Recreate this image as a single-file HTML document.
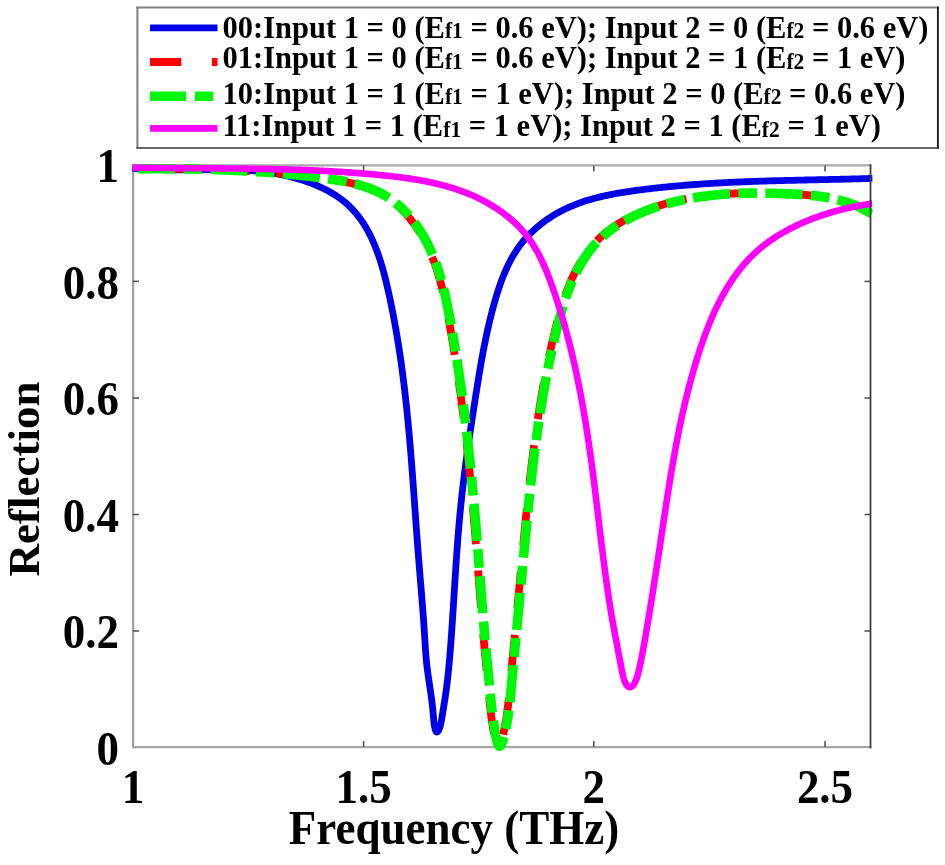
<!DOCTYPE html>
<html><head><meta charset="utf-8">
<style>
html,body{margin:0;padding:0;background:#fff;}
body{width:945px;height:865px;overflow:hidden;position:relative;}
svg{position:absolute;left:0;top:0;will-change:transform;}
text{font-family:"Liberation Serif",serif;font-weight:bold;fill:#000;}
.tk{font-size:45px;}
.lg{font-size:30.5px;}
</style></head>
<body>
<svg width="945" height="865" viewBox="0 0 945 865">
<defs>
<clipPath id="pc"><rect x="120" y="150" width="752.5" height="610"/></clipPath>
</defs>
<!-- axes box -->
<line x1="133.1" y1="164" x2="133.1" y2="748.3" stroke="#a0a0a0" stroke-width="2.2"/>
<line x1="132" y1="747.1" x2="871.4" y2="747.1" stroke="#a6a6a6" stroke-width="2.2"/>
<line x1="132" y1="165.4" x2="871.4" y2="165.4" stroke="#a8a8a8" stroke-width="2.4"/>
<!-- ticks -->
<g stroke="#555" stroke-width="1.6">
<line x1="133" y1="631" x2="139" y2="631"/>
<line x1="133" y1="514.5" x2="139" y2="514.5"/>
<line x1="133" y1="398" x2="139" y2="398"/>
<line x1="133" y1="281.4" x2="139" y2="281.4"/>
<line x1="870.5" y1="631" x2="864.5" y2="631"/>
<line x1="870.5" y1="514.5" x2="864.5" y2="514.5"/>
<line x1="870.5" y1="398" x2="864.5" y2="398"/>
<line x1="870.5" y1="281.4" x2="864.5" y2="281.4"/>
<line x1="363.6" y1="747" x2="363.6" y2="741"/>
<line x1="593.8" y1="747" x2="593.8" y2="741"/>
<line x1="825" y1="747" x2="825" y2="741"/>
<line x1="363.6" y1="165.4" x2="363.6" y2="171.4"/>
<line x1="593.8" y1="165.4" x2="593.8" y2="171.4"/>
<line x1="825" y1="165.4" x2="825" y2="171.4"/>
</g>
<!-- curves -->
<g clip-path="url(#pc)" fill="none" stroke-linejoin="round">
<path d="M132.56,168.17 L132.86,168.20 L134.52,168.35 L136.18,168.49 L137.83,168.62 L139.49,168.75 L141.14,168.86 L142.80,168.97 L144.45,169.07 L146.10,169.16 L147.75,169.25 L149.40,169.32 L151.05,169.39 L152.69,169.46 L154.34,169.52 L155.98,169.57 L157.63,169.62 L159.27,169.66 L160.91,169.69 L162.55,169.72 L164.19,169.75 L165.83,169.77 L167.47,169.79 L169.11,169.80 L170.74,169.81 L172.38,169.81 L174.01,169.82 L175.65,169.81 L177.28,169.81 L178.91,169.80 L180.54,169.79 L182.18,169.78 L183.81,169.77 L185.43,169.75 L187.06,169.74 L188.69,169.72 L190.32,169.70 L191.94,169.68 L193.57,169.66 L195.19,169.64 L196.82,169.62 L198.44,169.60 L200.06,169.58 L201.68,169.56 L203.30,169.55 L204.92,169.53 L206.54,169.51 L208.16,169.50 L209.78,169.49 L211.40,169.48 L213.02,169.47 L214.63,169.47 L216.25,169.47 L217.87,169.47 L219.48,169.47 L221.10,169.48 L222.71,169.49 L224.32,169.51 L225.94,169.53 L227.55,169.56 L229.16,169.59 L230.77,169.62 L232.38,169.66 L233.99,169.71 L235.60,169.76 L237.21,169.82 L238.82,169.88 L240.43,169.95 L242.04,170.03 L243.65,170.12 L245.26,170.21 L246.86,170.31 L248.47,170.41 L250.08,170.53 L251.68,170.65 L253.29,170.78 L254.89,170.92 L256.50,171.07 L258.11,171.23 L259.71,171.40 L261.32,171.58 L262.92,171.76 L264.52,171.96 L266.13,172.17 L267.73,172.39 L269.34,172.62 L270.94,172.86 L272.54,173.11 L274.14,173.37 L275.75,173.64 L277.35,173.93 L278.95,174.23 L280.55,174.54 L282.16,174.87 L283.76,175.20 L285.36,175.56 L286.96,175.92 L288.57,176.30 L290.17,176.69 L291.77,177.10 L293.37,177.52 L294.97,177.95 L296.57,178.40 L298.18,178.87 L299.78,179.35 L301.38,179.84 L302.98,180.36 L304.58,180.89 L306.18,181.43 L307.77,181.99 L309.36,182.57 L310.95,183.16 L312.53,183.77 L314.10,184.40 L315.66,185.04 L317.22,185.70 L318.77,186.38 L320.31,187.07 L321.84,187.78 L323.36,188.51 L324.86,189.26 L326.35,190.02 L327.83,190.81 L329.30,191.61 L330.74,192.42 L332.18,193.26 L333.59,194.11 L334.99,194.99 L336.37,195.88 L337.73,196.79 L339.07,197.72 L340.38,198.67 L341.68,199.63 L342.95,200.62 L344.20,201.63 L345.43,202.65 L346.63,203.69 L347.81,204.76 L348.97,205.84 L350.10,206.93 L351.22,208.05 L352.31,209.18 L353.38,210.33 L354.43,211.50 L355.46,212.68 L356.46,213.88 L357.45,215.10 L358.42,216.33 L359.37,217.57 L360.30,218.83 L361.21,220.11 L362.10,221.40 L362.97,222.70 L363.82,224.02 L364.66,225.35 L365.48,226.69 L366.28,228.05 L367.07,229.42 L367.84,230.80 L368.59,232.20 L369.33,233.60 L370.05,235.02 L370.76,236.44 L371.45,237.88 L372.13,239.33 L372.79,240.79 L373.44,242.26 L374.07,243.74 L374.70,245.22 L375.30,246.72 L375.90,248.22 L376.48,249.74 L377.05,251.26 L377.61,252.79 L378.16,254.32 L378.70,255.87 L379.22,257.42 L379.74,258.97 L380.24,260.54 L380.73,262.10 L381.22,263.68 L381.69,265.26 L382.16,266.84 L382.62,268.43 L383.06,270.03 L383.50,271.62 L383.94,273.23 L384.36,274.83 L384.78,276.44 L385.19,278.05 L385.59,279.67 L385.99,281.28 L386.38,282.90 L386.77,284.52 L387.15,286.14 L387.52,287.76 L387.89,289.39 L388.26,291.01 L388.62,292.64 L388.98,294.26 L389.33,295.88 L389.68,297.51 L390.03,299.13 L390.37,300.75 L390.71,302.38 L391.05,304.00 L391.38,305.62 L391.71,307.24 L392.04,308.86 L392.36,310.48 L392.68,312.10 L392.99,313.72 L393.31,315.34 L393.62,316.96 L393.92,318.58 L394.22,320.20 L394.52,321.82 L394.82,323.44 L395.11,325.06 L395.40,326.67 L395.69,328.29 L395.98,329.91 L396.26,331.53 L396.53,333.14 L396.81,334.76 L397.08,336.38 L397.35,337.99 L397.62,339.61 L397.88,341.22 L398.14,342.84 L398.40,344.46 L398.65,346.07 L398.91,347.69 L399.16,349.30 L399.40,350.91 L399.65,352.53 L399.89,354.14 L400.13,355.76 L400.36,357.37 L400.60,358.98 L400.83,360.60 L401.06,362.21 L401.28,363.82 L401.51,365.44 L401.73,367.05 L401.95,368.66 L402.16,370.28 L402.38,371.89 L402.59,373.50 L402.80,375.11 L403.01,376.73 L403.21,378.34 L403.42,379.95 L403.62,381.56 L403.82,383.17 L404.01,384.79 L404.21,386.40 L404.40,388.01 L404.59,389.62 L404.78,391.23 L404.96,392.84 L405.15,394.46 L405.33,396.07 L405.51,397.68 L405.69,399.29 L405.87,400.90 L406.04,402.51 L406.22,404.12 L406.39,405.73 L406.56,407.35 L406.73,408.96 L406.89,410.57 L407.06,412.18 L407.22,413.79 L407.38,415.40 L407.54,417.01 L407.70,418.62 L407.86,420.24 L408.01,421.85 L408.17,423.46 L408.32,425.07 L408.47,426.68 L408.62,428.29 L408.77,429.90 L408.92,431.52 L409.06,433.13 L409.21,434.74 L409.35,436.35 L409.49,437.96 L409.63,439.57 L409.77,441.19 L409.91,442.80 L410.05,444.41 L410.18,446.02 L410.32,447.64 L410.45,449.25 L410.59,450.86 L410.72,452.47 L410.85,454.09 L410.98,455.70 L411.11,457.31 L411.24,458.93 L411.37,460.54 L411.50,462.15 L411.62,463.77 L411.75,465.38 L411.87,467.00 L412.00,468.61 L412.12,470.23 L412.24,471.84 L412.37,473.46 L412.49,475.07 L412.61,476.69 L412.73,478.30 L412.85,479.92 L412.97,481.53 L413.09,483.15 L413.21,484.77 L413.33,486.38 L413.45,488.00 L413.56,489.62 L413.68,491.24 L413.80,492.85 L413.92,494.47 L414.03,496.09 L414.15,497.71 L414.26,499.33 L414.38,500.95 L414.50,502.57 L414.61,504.19 L414.73,505.81 L414.85,507.43 L414.96,509.05 L415.08,510.67 L415.19,512.29 L415.31,513.91 L415.43,515.53 L415.54,517.15 L415.66,518.78 L415.78,520.40 L415.89,522.02 L416.01,523.65 L416.13,525.27 L416.24,526.89 L416.36,528.52 L416.48,530.14 L416.60,531.77 L416.72,533.40 L416.84,535.02 L416.96,536.65 L417.08,538.28 L417.20,539.90 L417.32,541.53 L417.45,543.16 L417.57,544.79 L417.69,546.42 L417.82,548.05 L417.94,549.68 L418.07,551.31 L418.19,552.94 L418.32,554.57 L418.45,556.20 L418.58,557.83 L418.71,559.46 L418.84,561.10 L418.97,562.73 L419.10,564.36 L419.23,566.00 L419.37,567.63 L419.50,569.27 L419.63,570.90 L419.77,572.54 L419.90,574.18 L420.04,575.81 L420.17,577.45 L420.31,579.09 L420.45,580.72 L420.58,582.36 L420.72,584.00 L420.85,585.64 L420.99,587.27 L421.12,588.91 L421.26,590.55 L421.39,592.19 L421.53,593.83 L421.66,595.47 L421.79,597.10 L421.93,598.74 L422.06,600.38 L422.19,602.02 L422.32,603.66 L422.45,605.30 L422.58,606.94 L422.70,608.58 L422.83,610.21 L422.95,611.85 L423.08,613.49 L423.20,615.13 L423.32,616.77 L423.44,618.40 L423.56,620.04 L423.67,621.68 L423.79,623.32 L423.90,624.95 L424.01,626.59 L424.12,628.23 L424.23,629.86 L424.33,631.50 L424.44,633.13 L424.54,634.77 L424.64,636.40 L424.74,638.03 L424.84,639.67 L424.94,641.30 L425.04,642.93 L425.14,644.55 L425.24,646.18 L425.35,647.80 L425.46,649.42 L425.58,651.03 L425.69,652.65 L425.82,654.26 L425.95,655.86 L426.08,657.47 L426.22,659.06 L426.37,660.66 L426.53,662.25 L426.69,663.83 L426.86,665.41 L427.05,666.98 L427.24,668.55 L427.44,670.12 L427.64,671.69 L427.85,673.25 L428.07,674.81 L428.29,676.38 L428.52,677.94 L428.75,679.51 L428.98,681.08 L429.22,682.65 L429.46,684.24 L429.70,685.82 L429.94,687.42 L430.17,689.02 L430.41,690.63 L430.65,692.26 L430.88,693.89 L431.11,695.54 L431.34,697.19 L431.56,698.87 L431.78,700.56 L431.99,702.26 L432.19,703.98 L432.39,705.72 L432.58,707.48 L432.76,709.26 L432.93,711.05 L433.10,712.88 L433.25,714.72 L433.40,716.57 L433.55,718.42 L433.72,720.25 L433.91,722.05 L434.13,723.81 L434.38,725.51 L434.69,727.14 L435.04,728.68 L435.46,730.08 L435.93,731.19 L436.45,731.91 L437.03,732.10 L437.65,731.75 L438.27,730.96 L438.88,729.83 L439.45,728.44 L439.97,726.83 L440.45,725.06 L440.90,723.15 L441.31,721.13 L441.69,719.06 L442.05,716.96 L442.39,714.88 L442.71,712.84 L443.02,710.88 L443.32,709.02 L443.61,707.23 L443.88,705.51 L444.15,703.85 L444.41,702.23 L444.66,700.66 L444.90,699.12 L445.14,697.60 L445.37,696.09 L445.59,694.58 L445.81,693.07 L446.02,691.54 L446.23,690.01 L446.44,688.47 L446.64,686.92 L446.84,685.36 L447.03,683.80 L447.22,682.23 L447.40,680.65 L447.58,679.07 L447.76,677.48 L447.93,675.88 L448.10,674.28 L448.27,672.67 L448.43,671.06 L448.59,669.45 L448.75,667.83 L448.90,666.21 L449.06,664.58 L449.21,662.96 L449.35,661.32 L449.50,659.69 L449.64,658.06 L449.78,656.42 L449.91,654.78 L450.05,653.15 L450.18,651.51 L450.31,649.87 L450.44,648.23 L450.57,646.59 L450.70,644.95 L450.82,643.32 L450.95,641.68 L451.07,640.04 L451.19,638.41 L451.31,636.77 L451.43,635.14 L451.55,633.50 L451.66,631.87 L451.78,630.23 L451.89,628.60 L452.00,626.97 L452.11,625.33 L452.23,623.70 L452.34,622.07 L452.44,620.44 L452.55,618.80 L452.66,617.17 L452.77,615.54 L452.87,613.91 L452.98,612.28 L453.08,610.65 L453.19,609.02 L453.29,607.39 L453.39,605.77 L453.50,604.14 L453.60,602.51 L453.70,600.88 L453.80,599.25 L453.91,597.63 L454.01,596.00 L454.11,594.37 L454.21,592.75 L454.31,591.12 L454.41,589.49 L454.52,587.87 L454.62,586.24 L454.72,584.62 L454.82,582.99 L454.92,581.37 L455.03,579.74 L455.13,578.12 L455.23,576.49 L455.34,574.87 L455.44,573.25 L455.54,571.62 L455.65,570.00 L455.76,568.38 L455.86,566.75 L455.97,565.13 L456.08,563.51 L456.19,561.89 L456.30,560.26 L456.41,558.64 L456.52,557.02 L456.63,555.40 L456.74,553.78 L456.86,552.16 L456.97,550.53 L457.09,548.91 L457.21,547.29 L457.33,545.67 L457.45,544.05 L457.57,542.43 L457.69,540.81 L457.82,539.19 L457.94,537.57 L458.07,535.95 L458.20,534.32 L458.33,532.70 L458.47,531.08 L458.60,529.46 L458.74,527.84 L458.87,526.22 L459.01,524.60 L459.16,522.98 L459.30,521.36 L459.45,519.74 L459.59,518.12 L459.74,516.50 L459.90,514.88 L460.05,513.26 L460.21,511.64 L460.36,510.02 L460.53,508.40 L460.69,506.78 L460.85,505.16 L461.02,503.54 L461.19,501.92 L461.36,500.30 L461.54,498.68 L461.71,497.06 L461.89,495.44 L462.07,493.82 L462.25,492.20 L462.43,490.58 L462.62,488.96 L462.81,487.34 L463.00,485.72 L463.19,484.10 L463.38,482.48 L463.57,480.86 L463.77,479.24 L463.97,477.63 L464.17,476.01 L464.37,474.39 L464.57,472.77 L464.78,471.15 L464.99,469.53 L465.19,467.91 L465.40,466.29 L465.61,464.68 L465.83,463.06 L466.04,461.44 L466.26,459.82 L466.47,458.20 L466.69,456.59 L466.91,454.97 L467.13,453.35 L467.36,451.73 L467.58,450.12 L467.80,448.50 L468.03,446.88 L468.26,445.27 L468.49,443.65 L468.72,442.04 L468.95,440.42 L469.18,438.81 L469.41,437.19 L469.65,435.57 L469.88,433.96 L470.12,432.35 L470.36,430.73 L470.60,429.12 L470.84,427.50 L471.08,425.89 L471.32,424.28 L471.56,422.66 L471.80,421.05 L472.05,419.44 L472.29,417.83 L472.54,416.21 L472.78,414.60 L473.03,412.99 L473.28,411.38 L473.53,409.77 L473.78,408.16 L474.03,406.55 L474.28,404.94 L474.53,403.33 L474.78,401.72 L475.03,400.11 L475.28,398.50 L475.53,396.90 L475.79,395.29 L476.04,393.68 L476.30,392.07 L476.55,390.47 L476.81,388.86 L477.06,387.25 L477.32,385.65 L477.58,384.04 L477.84,382.44 L478.10,380.84 L478.36,379.23 L478.62,377.63 L478.88,376.02 L479.15,374.42 L479.42,372.82 L479.69,371.22 L479.96,369.62 L480.23,368.02 L480.51,366.42 L480.78,364.82 L481.06,363.22 L481.35,361.62 L481.63,360.02 L481.92,358.42 L482.21,356.82 L482.50,355.23 L482.80,353.63 L483.10,352.03 L483.40,350.44 L483.70,348.84 L484.01,347.25 L484.32,345.65 L484.64,344.06 L484.96,342.47 L485.28,340.87 L485.61,339.28 L485.94,337.69 L486.27,336.10 L486.61,334.51 L486.95,332.92 L487.30,331.33 L487.65,329.74 L488.01,328.15 L488.37,326.56 L488.74,324.98 L489.11,323.39 L489.48,321.80 L489.86,320.22 L490.25,318.63 L490.64,317.05 L491.04,315.47 L491.44,313.88 L491.85,312.30 L492.26,310.72 L492.68,309.14 L493.10,307.56 L493.53,305.98 L493.97,304.40 L494.41,302.82 L494.86,301.24 L495.32,299.67 L495.78,298.09 L496.25,296.52 L496.73,294.94 L497.21,293.37 L497.71,291.80 L498.21,290.24 L498.72,288.68 L499.24,287.12 L499.77,285.56 L500.31,284.01 L500.87,282.46 L501.43,280.92 L502.00,279.39 L502.59,277.86 L503.19,276.33 L503.80,274.81 L504.42,273.30 L505.06,271.80 L505.71,270.30 L506.37,268.82 L507.05,267.33 L507.75,265.86 L508.46,264.40 L509.18,262.95 L509.92,261.50 L510.68,260.07 L511.45,258.65 L512.24,257.23 L513.05,255.83 L513.88,254.44 L514.73,253.06 L515.59,251.70 L516.47,250.34 L517.38,249.00 L518.30,247.68 L519.24,246.36 L520.21,245.06 L521.19,243.78 L522.19,242.51 L523.22,241.25 L524.26,240.01 L525.33,238.78 L526.41,237.57 L527.51,236.37 L528.63,235.19 L529.77,234.03 L530.92,232.87 L532.09,231.74 L533.28,230.62 L534.48,229.52 L535.70,228.43 L536.93,227.36 L538.18,226.30 L539.44,225.26 L540.72,224.24 L542.01,223.23 L543.31,222.24 L544.62,221.27 L545.95,220.32 L547.29,219.38 L548.64,218.46 L550.00,217.55 L551.37,216.67 L552.76,215.80 L554.15,214.95 L555.55,214.11 L556.96,213.30 L558.38,212.50 L559.81,211.72 L561.24,210.96 L562.68,210.22 L564.13,209.50 L565.59,208.79 L567.06,208.10 L568.53,207.43 L570.00,206.78 L571.49,206.14 L572.98,205.52 L574.48,204.91 L575.98,204.32 L577.49,203.74 L579.00,203.18 L580.53,202.64 L582.05,202.11 L583.58,201.59 L585.12,201.08 L586.66,200.59 L588.21,200.12 L589.76,199.65 L591.32,199.20 L592.88,198.76 L594.45,198.33 L596.02,197.92 L597.59,197.51 L599.17,197.12 L600.75,196.74 L602.33,196.37 L603.92,196.00 L605.51,195.65 L607.11,195.31 L608.71,194.98 L610.31,194.65 L611.91,194.34 L613.52,194.03 L615.12,193.73 L616.73,193.44 L618.35,193.16 L619.96,192.88 L621.58,192.61 L623.20,192.35 L624.81,192.09 L626.44,191.84 L628.06,191.60 L629.68,191.36 L631.30,191.12 L632.93,190.89 L634.55,190.67 L636.18,190.45 L637.80,190.23 L639.43,190.02 L641.06,189.81 L642.68,189.60 L644.31,189.40 L645.93,189.20 L647.56,189.00 L649.19,188.81 L650.81,188.61 L652.44,188.43 L654.06,188.24 L655.69,188.06 L657.31,187.88 L658.94,187.70 L660.56,187.53 L662.19,187.36 L663.81,187.19 L665.44,187.03 L667.06,186.86 L668.69,186.71 L670.31,186.55 L671.94,186.39 L673.56,186.24 L675.19,186.09 L676.81,185.95 L678.44,185.80 L680.06,185.66 L681.68,185.52 L683.31,185.39 L684.93,185.25 L686.56,185.12 L688.18,184.99 L689.81,184.87 L691.43,184.74 L693.06,184.62 L694.68,184.50 L696.31,184.38 L697.93,184.27 L699.55,184.15 L701.18,184.04 L702.80,183.93 L704.43,183.83 L706.05,183.72 L707.68,183.62 L709.30,183.52 L710.93,183.42 L712.55,183.32 L714.18,183.23 L715.80,183.13 L717.42,183.04 L719.05,182.95 L720.67,182.86 L722.30,182.78 L723.92,182.69 L725.55,182.61 L727.17,182.53 L728.80,182.45 L730.42,182.37 L732.05,182.30 L733.67,182.22 L735.30,182.15 L736.92,182.08 L738.55,182.01 L740.17,181.94 L741.80,181.87 L743.42,181.80 L745.05,181.74 L746.67,181.68 L748.30,181.61 L749.93,181.55 L751.55,181.49 L753.18,181.43 L754.80,181.38 L756.43,181.32 L758.05,181.27 L759.68,181.21 L761.31,181.16 L762.93,181.11 L764.56,181.06 L766.18,181.01 L767.81,180.96 L769.44,180.91 L771.06,180.86 L772.69,180.82 L774.32,180.77 L775.95,180.73 L777.57,180.68 L779.20,180.64 L780.83,180.60 L782.45,180.55 L784.08,180.51 L785.71,180.47 L787.34,180.43 L788.96,180.39 L790.59,180.35 L792.22,180.31 L793.85,180.28 L795.48,180.24 L797.11,180.20 L798.73,180.16 L800.36,180.13 L801.99,180.09 L803.62,180.06 L805.25,180.02 L806.88,179.98 L808.51,179.95 L810.14,179.91 L811.77,179.88 L813.40,179.84 L815.03,179.81 L816.66,179.77 L818.29,179.74 L819.92,179.70 L821.55,179.67 L823.18,179.64 L824.81,179.60 L826.44,179.57 L828.08,179.53 L829.71,179.49 L831.34,179.46 L832.97,179.42 L834.60,179.39 L836.24,179.35 L837.87,179.31 L839.50,179.28 L841.13,179.24 L842.77,179.20 L844.40,179.16 L846.03,179.12 L847.67,179.08 L849.30,179.04 L850.93,179.00 L852.57,178.96 L854.20,178.92 L855.84,178.88 L857.47,178.83 L859.11,178.79 L860.74,178.74 L862.38,178.70 L864.02,178.65 L865.65,178.61 L867.29,178.56 L868.92,178.51 L870.56,178.46 L872.76,178.39" stroke="#0000e6" stroke-width="6.8"/>
<path transform="translate(-1.4,0)" d="M132.49,168.82 L132.79,168.82 L134.47,168.81 L136.16,168.79 L137.84,168.78 L139.52,168.77 L141.20,168.76 L142.87,168.75 L144.55,168.74 L146.22,168.73 L147.89,168.72 L149.56,168.72 L151.22,168.71 L152.89,168.71 L154.55,168.71 L156.21,168.70 L157.87,168.70 L159.53,168.71 L161.18,168.71 L162.83,168.71 L164.49,168.72 L166.14,168.72 L167.79,168.73 L169.44,168.74 L171.08,168.75 L172.73,168.76 L174.37,168.77 L176.01,168.78 L177.65,168.80 L179.29,168.82 L180.93,168.83 L182.57,168.85 L184.21,168.88 L185.84,168.90 L187.48,168.92 L189.11,168.95 L190.74,168.97 L192.37,169.00 L194.00,169.03 L195.63,169.06 L197.26,169.10 L198.89,169.13 L200.51,169.17 L202.14,169.21 L203.76,169.25 L205.39,169.29 L207.01,169.33 L208.64,169.38 L210.26,169.43 L211.88,169.47 L213.50,169.52 L215.12,169.58 L216.74,169.63 L218.36,169.69 L219.98,169.74 L221.60,169.80 L223.22,169.87 L224.84,169.93 L226.46,170.00 L228.08,170.06 L229.70,170.13 L231.31,170.20 L232.93,170.28 L234.55,170.35 L236.17,170.43 L237.79,170.51 L239.40,170.59 L241.02,170.68 L242.64,170.76 L244.26,170.85 L245.88,170.94 L247.50,171.03 L249.11,171.13 L250.73,171.22 L252.35,171.32 L253.97,171.43 L255.59,171.53 L257.21,171.64 L258.84,171.74 L260.46,171.85 L262.08,171.97 L263.70,172.08 L265.33,172.20 L266.95,172.32 L268.57,172.44 L270.20,172.57 L271.83,172.70 L273.45,172.83 L275.08,172.96 L276.71,173.09 L278.34,173.23 L279.97,173.37 L281.60,173.51 L283.23,173.66 L284.86,173.81 L286.50,173.96 L288.13,174.11 L289.77,174.27 L291.41,174.43 L293.05,174.59 L294.69,174.75 L296.33,174.92 L297.97,175.09 L299.62,175.26 L301.26,175.44 L302.91,175.61 L304.56,175.79 L306.20,175.98 L307.86,176.16 L309.51,176.35 L311.16,176.55 L312.82,176.74 L314.48,176.94 L316.14,177.14 L317.80,177.34 L319.46,177.55 L321.12,177.76 L322.79,177.98 L324.45,178.20 L326.12,178.42 L327.78,178.66 L329.44,178.89 L331.11,179.14 L332.77,179.39 L334.43,179.65 L336.08,179.92 L337.73,180.20 L339.38,180.48 L341.03,180.78 L342.67,181.08 L344.31,181.40 L345.95,181.73 L347.58,182.07 L349.20,182.42 L350.82,182.79 L352.43,183.17 L354.03,183.56 L355.63,183.97 L357.22,184.39 L358.80,184.83 L360.38,185.28 L361.94,185.75 L363.50,186.24 L365.05,186.74 L366.58,187.26 L368.11,187.80 L369.63,188.36 L371.13,188.94 L372.63,189.54 L374.11,190.16 L375.58,190.80 L377.04,191.46 L378.49,192.14 L379.92,192.85 L381.34,193.58 L382.75,194.33 L384.14,195.10 L385.51,195.90 L386.87,196.73 L388.22,197.58 L389.55,198.45 L390.86,199.36 L392.16,200.28 L393.44,201.23 L394.71,202.20 L395.96,203.20 L397.20,204.22 L398.41,205.26 L399.62,206.32 L400.81,207.41 L401.98,208.51 L403.14,209.64 L404.28,210.78 L405.40,211.94 L406.51,213.12 L407.61,214.32 L408.69,215.54 L409.75,216.78 L410.80,218.03 L411.83,219.29 L412.84,220.58 L413.84,221.87 L414.83,223.19 L415.80,224.51 L416.75,225.85 L417.69,227.21 L418.61,228.57 L419.52,229.95 L420.41,231.34 L421.29,232.74 L422.15,234.16 L423.00,235.58 L423.83,237.01 L424.64,238.45 L425.44,239.90 L426.22,241.36 L426.99,242.83 L427.74,244.30 L428.48,245.78 L429.20,247.26 L429.91,248.76 L430.60,250.25 L431.28,251.75 L431.94,253.26 L432.58,254.77 L433.21,256.28 L433.83,257.80 L434.43,259.33 L435.02,260.85 L435.60,262.39 L436.16,263.92 L436.71,265.46 L437.25,267.00 L437.78,268.55 L438.29,270.10 L438.79,271.65 L439.28,273.21 L439.76,274.76 L440.23,276.33 L440.69,277.89 L441.14,279.46 L441.58,281.03 L442.01,282.61 L442.43,284.18 L442.84,285.76 L443.25,287.34 L443.64,288.93 L444.03,290.51 L444.41,292.10 L444.79,293.69 L445.15,295.28 L445.51,296.87 L445.86,298.47 L446.21,300.07 L446.55,301.67 L446.89,303.27 L447.22,304.87 L447.55,306.47 L447.87,308.08 L448.19,309.68 L448.50,311.29 L448.81,312.89 L449.12,314.50 L449.42,316.11 L449.72,317.72 L450.02,319.33 L450.32,320.94 L450.61,322.55 L450.91,324.16 L451.20,325.77 L451.49,327.39 L451.77,329.00 L452.06,330.61 L452.34,332.22 L452.63,333.84 L452.91,335.45 L453.18,337.06 L453.46,338.68 L453.74,340.29 L454.01,341.91 L454.28,343.52 L454.55,345.14 L454.82,346.76 L455.08,348.37 L455.35,349.99 L455.61,351.61 L455.87,353.22 L456.13,354.84 L456.39,356.46 L456.64,358.08 L456.90,359.70 L457.15,361.32 L457.40,362.94 L457.65,364.56 L457.89,366.18 L458.14,367.80 L458.38,369.42 L458.63,371.04 L458.87,372.66 L459.11,374.28 L459.34,375.90 L459.58,377.52 L459.82,379.15 L460.05,380.77 L460.28,382.39 L460.51,384.01 L460.74,385.64 L460.97,387.26 L461.19,388.89 L461.42,390.51 L461.64,392.13 L461.86,393.76 L462.08,395.38 L462.30,397.01 L462.51,398.63 L462.73,400.26 L462.94,401.88 L463.16,403.51 L463.37,405.14 L463.58,406.76 L463.79,408.39 L463.99,410.02 L464.20,411.64 L464.40,413.27 L464.61,414.90 L464.81,416.53 L465.01,418.15 L465.21,419.78 L465.41,421.41 L465.60,423.04 L465.80,424.67 L465.99,426.30 L466.19,427.92 L466.38,429.55 L466.57,431.18 L466.76,432.81 L466.95,434.44 L467.13,436.07 L467.32,437.70 L467.50,439.33 L467.69,440.96 L467.87,442.59 L468.05,444.22 L468.23,445.85 L468.41,447.48 L468.59,449.11 L468.76,450.74 L468.94,452.38 L469.11,454.01 L469.29,455.64 L469.46,457.27 L469.63,458.90 L469.80,460.53 L469.97,462.16 L470.14,463.80 L470.31,465.43 L470.47,467.06 L470.64,468.69 L470.80,470.32 L470.97,471.96 L471.13,473.59 L471.29,475.22 L471.45,476.85 L471.61,478.49 L471.77,480.12 L471.93,481.75 L472.08,483.38 L472.24,485.02 L472.40,486.65 L472.55,488.28 L472.70,489.91 L472.86,491.55 L473.01,493.18 L473.16,494.81 L473.31,496.45 L473.46,498.08 L473.61,499.71 L473.76,501.34 L473.90,502.98 L474.05,504.61 L474.19,506.24 L474.34,507.88 L474.48,509.51 L474.63,511.14 L474.77,512.77 L474.91,514.41 L475.05,516.04 L475.19,517.67 L475.33,519.31 L475.47,520.94 L475.61,522.57 L475.75,524.21 L475.89,525.84 L476.03,527.47 L476.16,529.10 L476.30,530.74 L476.43,532.37 L476.57,534.00 L476.70,535.63 L476.84,537.27 L476.97,538.90 L477.10,540.53 L477.23,542.16 L477.36,543.80 L477.50,545.43 L477.63,547.06 L477.76,548.69 L477.89,550.32 L478.02,551.96 L478.14,553.59 L478.27,555.22 L478.40,556.85 L478.53,558.48 L478.66,560.11 L478.78,561.75 L478.91,563.38 L479.04,565.01 L479.17,566.64 L479.29,568.27 L479.42,569.90 L479.55,571.54 L479.67,573.17 L479.80,574.80 L479.93,576.43 L480.05,578.06 L480.18,579.70 L480.31,581.33 L480.43,582.96 L480.56,584.59 L480.69,586.23 L480.81,587.86 L480.94,589.49 L481.07,591.12 L481.20,592.76 L481.33,594.39 L481.45,596.02 L481.58,597.66 L481.71,599.29 L481.84,600.93 L481.97,602.56 L482.10,604.19 L482.24,605.83 L482.37,607.46 L482.50,609.10 L482.63,610.73 L482.77,612.37 L482.90,614.00 L483.04,615.64 L483.17,617.28 L483.31,618.91 L483.44,620.55 L483.58,622.19 L483.72,623.82 L483.86,625.46 L484.00,627.10 L484.14,628.74 L484.28,630.38 L484.43,632.01 L484.57,633.65 L484.71,635.29 L484.86,636.93 L485.01,638.57 L485.15,640.21 L485.30,641.85 L485.45,643.50 L485.61,645.14 L485.76,646.78 L485.91,648.42 L486.07,650.06 L486.22,651.71 L486.38,653.35 L486.53,654.99 L486.69,656.63 L486.85,658.27 L487.01,659.91 L487.17,661.55 L487.32,663.19 L487.48,664.82 L487.64,666.46 L487.80,668.09 L487.96,669.72 L488.12,671.35 L488.28,672.98 L488.44,674.60 L488.60,676.23 L488.75,677.85 L488.91,679.46 L489.07,681.08 L489.22,682.69 L489.38,684.30 L489.53,685.91 L489.69,687.51 L489.84,689.11 L489.99,690.70 L490.14,692.29 L490.28,693.88 L490.43,695.46 L490.58,697.04 L490.72,698.62 L490.87,700.20 L491.02,701.78 L491.17,703.37 L491.33,704.96 L491.50,706.56 L491.67,708.18 L491.85,709.81 L492.05,711.45 L492.25,713.12 L492.46,714.80 L492.69,716.51 L492.93,718.24 L493.18,720.00 L493.45,721.80 L493.73,723.63 L494.02,725.49 L494.33,727.40 L494.65,729.35 L494.98,731.35 L495.34,733.39 L495.70,735.44 L496.09,737.44 L496.49,739.35 L496.92,741.12 L497.36,742.70 L497.83,744.05 L498.32,745.11 L498.83,745.84 L499.36,746.20 L499.93,746.12 L500.51,745.63 L501.11,744.77 L501.70,743.60 L502.30,742.18 L502.87,740.55 L503.43,738.78 L503.95,736.91 L504.43,735.00 L504.87,733.07 L505.29,731.14 L505.68,729.24 L506.05,727.36 L506.41,725.51 L506.75,723.69 L507.07,721.89 L507.37,720.12 L507.66,718.37 L507.94,716.64 L508.20,714.92 L508.44,713.23 L508.68,711.56 L508.90,709.90 L509.12,708.25 L509.32,706.62 L509.51,705.00 L509.70,703.39 L509.87,701.79 L510.04,700.20 L510.21,698.62 L510.37,697.04 L510.52,695.47 L510.67,693.91 L510.82,692.34 L510.97,690.78 L511.11,689.21 L511.26,687.64 L511.40,686.08 L511.54,684.50 L511.69,682.93 L511.83,681.35 L511.98,679.77 L512.13,678.19 L512.27,676.60 L512.42,675.01 L512.57,673.42 L512.72,671.82 L512.87,670.22 L513.02,668.62 L513.17,667.02 L513.32,665.41 L513.47,663.80 L513.62,662.19 L513.77,660.58 L513.93,658.96 L514.08,657.34 L514.23,655.72 L514.39,654.10 L514.54,652.48 L514.69,650.85 L514.85,649.22 L515.00,647.59 L515.16,645.96 L515.31,644.33 L515.47,642.69 L515.62,641.06 L515.78,639.42 L515.93,637.78 L516.09,636.14 L516.25,634.50 L516.40,632.86 L516.56,631.21 L516.72,629.57 L516.87,627.92 L517.03,626.27 L517.19,624.62 L517.34,622.97 L517.50,621.33 L517.66,619.67 L517.82,618.02 L517.97,616.37 L518.13,614.72 L518.29,613.07 L518.44,611.41 L518.60,609.76 L518.76,608.11 L518.91,606.45 L519.07,604.80 L519.23,603.14 L519.38,601.49 L519.54,599.84 L519.70,598.18 L519.85,596.53 L520.01,594.87 L520.17,593.22 L520.32,591.57 L520.48,589.92 L520.63,588.26 L520.79,586.61 L520.94,584.96 L521.10,583.31 L521.25,581.66 L521.40,580.01 L521.56,578.37 L521.71,576.72 L521.86,575.07 L522.02,573.43 L522.17,571.78 L522.32,570.14 L522.47,568.50 L522.62,566.86 L522.78,565.22 L522.93,563.58 L523.08,561.94 L523.23,560.30 L523.38,558.66 L523.54,557.02 L523.69,555.39 L523.84,553.75 L523.99,552.11 L524.14,550.48 L524.30,548.85 L524.45,547.21 L524.60,545.58 L524.75,543.95 L524.91,542.32 L525.06,540.69 L525.21,539.06 L525.37,537.43 L525.52,535.80 L525.68,534.17 L525.83,532.54 L525.99,530.92 L526.14,529.29 L526.30,527.66 L526.46,526.04 L526.61,524.41 L526.77,522.79 L526.93,521.16 L527.09,519.54 L527.25,517.92 L527.41,516.30 L527.57,514.67 L527.73,513.05 L527.89,511.43 L528.06,509.81 L528.22,508.19 L528.39,506.57 L528.55,504.95 L528.72,503.33 L528.89,501.71 L529.05,500.09 L529.22,498.48 L529.39,496.86 L529.56,495.24 L529.73,493.63 L529.91,492.01 L530.08,490.39 L530.26,488.78 L530.43,487.16 L530.61,485.55 L530.79,483.93 L530.97,482.32 L531.15,480.70 L531.33,479.09 L531.51,477.47 L531.70,475.86 L531.88,474.25 L532.07,472.63 L532.26,471.02 L532.44,469.41 L532.64,467.79 L532.83,466.18 L533.02,464.57 L533.22,462.96 L533.41,461.34 L533.61,459.73 L533.81,458.12 L534.01,456.51 L534.21,454.90 L534.42,453.28 L534.62,451.67 L534.83,450.06 L535.04,448.45 L535.25,446.84 L535.46,445.23 L535.68,443.61 L535.89,442.00 L536.11,440.39 L536.33,438.78 L536.55,437.17 L536.77,435.56 L537.00,433.95 L537.23,432.34 L537.45,430.72 L537.69,429.11 L537.92,427.50 L538.15,425.89 L538.39,424.28 L538.63,422.66 L538.87,421.05 L539.11,419.44 L539.36,417.83 L539.60,416.22 L539.85,414.60 L540.11,412.99 L540.36,411.38 L540.62,409.76 L540.87,408.15 L541.13,406.54 L541.40,404.92 L541.66,403.31 L541.93,401.70 L542.20,400.08 L542.47,398.47 L542.75,396.85 L543.03,395.24 L543.31,393.62 L543.59,392.01 L543.87,390.39 L544.16,388.77 L544.45,387.16 L544.74,385.54 L545.04,383.92 L545.34,382.31 L545.64,380.69 L545.94,379.07 L546.25,377.45 L546.56,375.83 L546.87,374.21 L547.18,372.59 L547.50,370.97 L547.82,369.35 L548.14,367.73 L548.47,366.11 L548.80,364.49 L549.13,362.86 L549.46,361.24 L549.80,359.62 L550.14,357.99 L550.49,356.37 L550.83,354.74 L551.18,353.12 L551.54,351.49 L551.89,349.86 L552.25,348.24 L552.61,346.61 L552.98,344.98 L553.35,343.35 L553.72,341.72 L554.10,340.09 L554.48,338.46 L554.86,336.83 L555.25,335.20 L555.64,333.57 L556.03,331.93 L556.43,330.30 L556.83,328.67 L557.24,327.04 L557.65,325.42 L558.07,323.79 L558.49,322.16 L558.92,320.54 L559.36,318.92 L559.80,317.30 L560.24,315.68 L560.70,314.07 L561.16,312.46 L561.63,310.86 L562.10,309.25 L562.58,307.65 L563.07,306.06 L563.57,304.47 L564.07,302.88 L564.59,301.30 L565.11,299.72 L565.64,298.15 L566.18,296.59 L566.73,295.03 L567.29,293.48 L567.86,291.93 L568.44,290.39 L569.03,288.86 L569.63,287.33 L570.23,285.81 L570.85,284.30 L571.49,282.79 L572.13,281.30 L572.78,279.81 L573.45,278.33 L574.12,276.86 L574.81,275.40 L575.51,273.95 L576.23,272.50 L576.95,271.07 L577.69,269.65 L578.45,268.24 L579.21,266.83 L579.99,265.44 L580.79,264.06 L581.60,262.69 L582.42,261.33 L583.25,259.99 L584.11,258.65 L584.97,257.33 L585.85,256.02 L586.75,254.72 L587.66,253.44 L588.59,252.17 L589.54,250.91 L590.50,249.67 L591.47,248.43 L592.47,247.22 L593.48,246.02 L594.51,244.83 L595.55,243.66 L596.62,242.50 L597.70,241.36 L598.80,240.23 L599.92,239.12 L601.05,238.03 L602.21,236.95 L603.38,235.89 L604.57,234.84 L605.78,233.81 L607.01,232.80 L608.25,231.80 L609.51,230.81 L610.79,229.85 L612.08,228.90 L613.39,227.96 L614.71,227.04 L616.05,226.13 L617.40,225.24 L618.76,224.37 L620.14,223.51 L621.54,222.66 L622.94,221.83 L624.36,221.01 L625.79,220.21 L627.23,219.42 L628.69,218.65 L630.16,217.89 L631.63,217.14 L633.12,216.41 L634.62,215.69 L636.12,214.99 L637.64,214.30 L639.16,213.62 L640.70,212.96 L642.24,212.31 L643.79,211.67 L645.35,211.04 L646.91,210.43 L648.48,209.83 L650.06,209.25 L651.64,208.67 L653.23,208.11 L654.83,207.56 L656.43,207.03 L658.03,206.50 L659.64,205.99 L661.25,205.49 L662.87,205.00 L664.49,204.53 L666.11,204.06 L667.74,203.61 L669.37,203.17 L670.99,202.74 L672.62,202.32 L674.26,201.91 L675.89,201.52 L677.52,201.13 L679.15,200.75 L680.78,200.39 L682.41,200.04 L684.04,199.69 L685.67,199.36 L687.30,199.04 L688.93,198.72 L690.55,198.42 L692.18,198.13 L693.80,197.85 L695.42,197.57 L697.04,197.31 L698.67,197.05 L700.29,196.81 L701.91,196.57 L703.53,196.35 L705.14,196.13 L706.76,195.92 L708.38,195.72 L710.00,195.52 L711.61,195.34 L713.23,195.16 L714.85,195.00 L716.46,194.84 L718.08,194.69 L719.69,194.54 L721.31,194.41 L722.92,194.28 L724.54,194.16 L726.15,194.04 L727.77,193.93 L729.38,193.83 L731.00,193.74 L732.61,193.65 L734.23,193.57 L735.84,193.50 L737.46,193.43 L739.07,193.37 L740.69,193.32 L742.31,193.27 L743.92,193.23 L745.54,193.19 L747.16,193.16 L748.78,193.13 L750.40,193.11 L752.01,193.10 L753.64,193.09 L755.26,193.08 L756.88,193.08 L758.50,193.09 L760.12,193.10 L761.75,193.11 L763.37,193.13 L765.00,193.15 L766.63,193.18 L768.25,193.21 L769.88,193.24 L771.51,193.28 L773.15,193.33 L774.78,193.37 L776.41,193.42 L778.05,193.47 L779.68,193.53 L781.32,193.59 L782.96,193.65 L784.60,193.71 L786.24,193.78 L787.89,193.85 L789.53,193.92 L791.18,194.00 L792.83,194.08 L794.48,194.16 L796.12,194.25 L797.77,194.35 L799.42,194.45 L801.07,194.55 L802.72,194.67 L804.36,194.79 L806.01,194.92 L807.66,195.06 L809.30,195.21 L810.95,195.36 L812.59,195.53 L814.23,195.71 L815.87,195.89 L817.50,196.09 L819.13,196.30 L820.77,196.52 L822.39,196.76 L824.02,197.01 L825.64,197.27 L827.26,197.55 L828.87,197.84 L830.48,198.15 L832.09,198.47 L833.69,198.81 L835.29,199.16 L836.88,199.53 L838.47,199.92 L840.06,200.33 L841.63,200.76 L843.21,201.20 L844.77,201.66 L846.33,202.15 L847.89,202.65 L849.44,203.18 L850.98,203.73 L852.51,204.30 L854.04,204.89 L855.56,205.50 L857.08,206.14 L858.58,206.80 L860.08,207.49 L861.57,208.20 L863.05,208.93 L864.53,209.69 L865.99,210.48 L867.45,211.30 L868.90,212.14 L870.34,213.01 L872.22,214.15" stroke="#ff0000" stroke-width="7.8" stroke-dasharray="37 26.5" stroke-dashoffset="45.5"/>
<path d="M132.49,168.82 L132.79,168.82 L134.47,168.81 L136.16,168.79 L137.84,168.78 L139.52,168.77 L141.20,168.76 L142.87,168.75 L144.55,168.74 L146.22,168.73 L147.89,168.72 L149.56,168.72 L151.22,168.71 L152.89,168.71 L154.55,168.71 L156.21,168.70 L157.87,168.70 L159.53,168.71 L161.18,168.71 L162.83,168.71 L164.49,168.72 L166.14,168.72 L167.79,168.73 L169.44,168.74 L171.08,168.75 L172.73,168.76 L174.37,168.77 L176.01,168.78 L177.65,168.80 L179.29,168.82 L180.93,168.83 L182.57,168.85 L184.21,168.88 L185.84,168.90 L187.48,168.92 L189.11,168.95 L190.74,168.97 L192.37,169.00 L194.00,169.03 L195.63,169.06 L197.26,169.10 L198.89,169.13 L200.51,169.17 L202.14,169.21 L203.76,169.25 L205.39,169.29 L207.01,169.33 L208.64,169.38 L210.26,169.43 L211.88,169.47 L213.50,169.52 L215.12,169.58 L216.74,169.63 L218.36,169.69 L219.98,169.74 L221.60,169.80 L223.22,169.87 L224.84,169.93 L226.46,170.00 L228.08,170.06 L229.70,170.13 L231.31,170.20 L232.93,170.28 L234.55,170.35 L236.17,170.43 L237.79,170.51 L239.40,170.59 L241.02,170.68 L242.64,170.76 L244.26,170.85 L245.88,170.94 L247.50,171.03 L249.11,171.13 L250.73,171.22 L252.35,171.32 L253.97,171.43 L255.59,171.53 L257.21,171.64 L258.84,171.74 L260.46,171.85 L262.08,171.97 L263.70,172.08 L265.33,172.20 L266.95,172.32 L268.57,172.44 L270.20,172.57 L271.83,172.70 L273.45,172.83 L275.08,172.96 L276.71,173.09 L278.34,173.23 L279.97,173.37 L281.60,173.51 L283.23,173.66 L284.86,173.81 L286.50,173.96 L288.13,174.11 L289.77,174.27 L291.41,174.43 L293.05,174.59 L294.69,174.75 L296.33,174.92 L297.97,175.09 L299.62,175.26 L301.26,175.44 L302.91,175.61 L304.56,175.79 L306.20,175.98 L307.86,176.16 L309.51,176.35 L311.16,176.55 L312.82,176.74 L314.48,176.94 L316.14,177.14 L317.80,177.34 L319.46,177.55 L321.12,177.76 L322.79,177.98 L324.45,178.20 L326.12,178.42 L327.78,178.66 L329.44,178.89 L331.11,179.14 L332.77,179.39 L334.43,179.65 L336.08,179.92 L337.73,180.20 L339.38,180.48 L341.03,180.78 L342.67,181.08 L344.31,181.40 L345.95,181.73 L347.58,182.07 L349.20,182.42 L350.82,182.79 L352.43,183.17 L354.03,183.56 L355.63,183.97 L357.22,184.39 L358.80,184.83 L360.38,185.28 L361.94,185.75 L363.50,186.24 L365.05,186.74 L366.58,187.26 L368.11,187.80 L369.63,188.36 L371.13,188.94 L372.63,189.54 L374.11,190.16 L375.58,190.80 L377.04,191.46 L378.49,192.14 L379.92,192.85 L381.34,193.58 L382.75,194.33 L384.14,195.10 L385.51,195.90 L386.87,196.73 L388.22,197.58 L389.55,198.45 L390.86,199.36 L392.16,200.28 L393.44,201.23 L394.71,202.20 L395.96,203.20 L397.20,204.22 L398.41,205.26 L399.62,206.32 L400.81,207.41 L401.98,208.51 L403.14,209.64 L404.28,210.78 L405.40,211.94 L406.51,213.12 L407.61,214.32 L408.69,215.54 L409.75,216.78 L410.80,218.03 L411.83,219.29 L412.84,220.58 L413.84,221.87 L414.83,223.19 L415.80,224.51 L416.75,225.85 L417.69,227.21 L418.61,228.57 L419.52,229.95 L420.41,231.34 L421.29,232.74 L422.15,234.16 L423.00,235.58 L423.83,237.01 L424.64,238.45 L425.44,239.90 L426.22,241.36 L426.99,242.83 L427.74,244.30 L428.48,245.78 L429.20,247.26 L429.91,248.76 L430.60,250.25 L431.28,251.75 L431.94,253.26 L432.58,254.77 L433.21,256.28 L433.83,257.80 L434.43,259.33 L435.02,260.85 L435.60,262.39 L436.16,263.92 L436.71,265.46 L437.25,267.00 L437.78,268.55 L438.29,270.10 L438.79,271.65 L439.28,273.21 L439.76,274.76 L440.23,276.33 L440.69,277.89 L441.14,279.46 L441.58,281.03 L442.01,282.61 L442.43,284.18 L442.84,285.76 L443.25,287.34 L443.64,288.93 L444.03,290.51 L444.41,292.10 L444.79,293.69 L445.15,295.28 L445.51,296.87 L445.86,298.47 L446.21,300.07 L446.55,301.67 L446.89,303.27 L447.22,304.87 L447.55,306.47 L447.87,308.08 L448.19,309.68 L448.50,311.29 L448.81,312.89 L449.12,314.50 L449.42,316.11 L449.72,317.72 L450.02,319.33 L450.32,320.94 L450.61,322.55 L450.91,324.16 L451.20,325.77 L451.49,327.39 L451.77,329.00 L452.06,330.61 L452.34,332.22 L452.63,333.84 L452.91,335.45 L453.18,337.06 L453.46,338.68 L453.74,340.29 L454.01,341.91 L454.28,343.52 L454.55,345.14 L454.82,346.76 L455.08,348.37 L455.35,349.99 L455.61,351.61 L455.87,353.22 L456.13,354.84 L456.39,356.46 L456.64,358.08 L456.90,359.70 L457.15,361.32 L457.40,362.94 L457.65,364.56 L457.89,366.18 L458.14,367.80 L458.38,369.42 L458.63,371.04 L458.87,372.66 L459.11,374.28 L459.34,375.90 L459.58,377.52 L459.82,379.15 L460.05,380.77 L460.28,382.39 L460.51,384.01 L460.74,385.64 L460.97,387.26 L461.19,388.89 L461.42,390.51 L461.64,392.13 L461.86,393.76 L462.08,395.38 L462.30,397.01 L462.51,398.63 L462.73,400.26 L462.94,401.88 L463.16,403.51 L463.37,405.14 L463.58,406.76 L463.79,408.39 L463.99,410.02 L464.20,411.64 L464.40,413.27 L464.61,414.90 L464.81,416.53 L465.01,418.15 L465.21,419.78 L465.41,421.41 L465.60,423.04 L465.80,424.67 L465.99,426.30 L466.19,427.92 L466.38,429.55 L466.57,431.18 L466.76,432.81 L466.95,434.44 L467.13,436.07 L467.32,437.70 L467.50,439.33 L467.69,440.96 L467.87,442.59 L468.05,444.22 L468.23,445.85 L468.41,447.48 L468.59,449.11 L468.76,450.74 L468.94,452.38 L469.11,454.01 L469.29,455.64 L469.46,457.27 L469.63,458.90 L469.80,460.53 L469.97,462.16 L470.14,463.80 L470.31,465.43 L470.47,467.06 L470.64,468.69 L470.80,470.32 L470.97,471.96 L471.13,473.59 L471.29,475.22 L471.45,476.85 L471.61,478.49 L471.77,480.12 L471.93,481.75 L472.08,483.38 L472.24,485.02 L472.40,486.65 L472.55,488.28 L472.70,489.91 L472.86,491.55 L473.01,493.18 L473.16,494.81 L473.31,496.45 L473.46,498.08 L473.61,499.71 L473.76,501.34 L473.90,502.98 L474.05,504.61 L474.19,506.24 L474.34,507.88 L474.48,509.51 L474.63,511.14 L474.77,512.77 L474.91,514.41 L475.05,516.04 L475.19,517.67 L475.33,519.31 L475.47,520.94 L475.61,522.57 L475.75,524.21 L475.89,525.84 L476.03,527.47 L476.16,529.10 L476.30,530.74 L476.43,532.37 L476.57,534.00 L476.70,535.63 L476.84,537.27 L476.97,538.90 L477.10,540.53 L477.23,542.16 L477.36,543.80 L477.50,545.43 L477.63,547.06 L477.76,548.69 L477.89,550.32 L478.02,551.96 L478.14,553.59 L478.27,555.22 L478.40,556.85 L478.53,558.48 L478.66,560.11 L478.78,561.75 L478.91,563.38 L479.04,565.01 L479.17,566.64 L479.29,568.27 L479.42,569.90 L479.55,571.54 L479.67,573.17 L479.80,574.80 L479.93,576.43 L480.05,578.06 L480.18,579.70 L480.31,581.33 L480.43,582.96 L480.56,584.59 L480.69,586.23 L480.81,587.86 L480.94,589.49 L481.07,591.12 L481.20,592.76 L481.33,594.39 L481.45,596.02 L481.58,597.66 L481.71,599.29 L481.84,600.93 L481.97,602.56 L482.10,604.19 L482.24,605.83 L482.37,607.46 L482.50,609.10 L482.63,610.73 L482.77,612.37 L482.90,614.00 L483.04,615.64 L483.17,617.28 L483.31,618.91 L483.44,620.55 L483.58,622.19 L483.72,623.82 L483.86,625.46 L484.00,627.10 L484.14,628.74 L484.28,630.38 L484.43,632.01 L484.57,633.65 L484.71,635.29 L484.86,636.93 L485.01,638.57 L485.15,640.21 L485.30,641.85 L485.45,643.50 L485.61,645.14 L485.76,646.78 L485.91,648.42 L486.07,650.06 L486.22,651.71 L486.38,653.35 L486.53,654.99 L486.69,656.63 L486.85,658.27 L487.01,659.91 L487.17,661.55 L487.32,663.19 L487.48,664.82 L487.64,666.46 L487.80,668.09 L487.96,669.72 L488.12,671.35 L488.28,672.98 L488.44,674.60 L488.60,676.23 L488.75,677.85 L488.91,679.46 L489.07,681.08 L489.22,682.69 L489.38,684.30 L489.53,685.91 L489.69,687.51 L489.84,689.11 L489.99,690.70 L490.14,692.29 L490.28,693.88 L490.43,695.46 L490.58,697.04 L490.72,698.62 L490.87,700.20 L491.02,701.78 L491.17,703.37 L491.33,704.96 L491.50,706.56 L491.67,708.18 L491.85,709.81 L492.05,711.45 L492.25,713.12 L492.46,714.80 L492.69,716.51 L492.93,718.24 L493.18,720.00 L493.45,721.80 L493.73,723.63 L494.02,725.49 L494.33,727.40 L494.65,729.35 L494.98,731.35 L495.34,733.39 L495.70,735.44 L496.09,737.44 L496.49,739.35 L496.92,741.12 L497.36,742.70 L497.83,744.05 L498.32,745.11 L498.83,745.84 L499.36,746.20 L499.93,746.12 L500.51,745.63 L501.11,744.77 L501.70,743.60 L502.30,742.18 L502.87,740.55 L503.43,738.78 L503.95,736.91 L504.43,735.00 L504.87,733.07 L505.29,731.14 L505.68,729.24 L506.05,727.36 L506.41,725.51 L506.75,723.69 L507.07,721.89 L507.37,720.12 L507.66,718.37 L507.94,716.64 L508.20,714.92 L508.44,713.23 L508.68,711.56 L508.90,709.90 L509.12,708.25 L509.32,706.62 L509.51,705.00 L509.70,703.39 L509.87,701.79 L510.04,700.20 L510.21,698.62 L510.37,697.04 L510.52,695.47 L510.67,693.91 L510.82,692.34 L510.97,690.78 L511.11,689.21 L511.26,687.64 L511.40,686.08 L511.54,684.50 L511.69,682.93 L511.83,681.35 L511.98,679.77 L512.13,678.19 L512.27,676.60 L512.42,675.01 L512.57,673.42 L512.72,671.82 L512.87,670.22 L513.02,668.62 L513.17,667.02 L513.32,665.41 L513.47,663.80 L513.62,662.19 L513.77,660.58 L513.93,658.96 L514.08,657.34 L514.23,655.72 L514.39,654.10 L514.54,652.48 L514.69,650.85 L514.85,649.22 L515.00,647.59 L515.16,645.96 L515.31,644.33 L515.47,642.69 L515.62,641.06 L515.78,639.42 L515.93,637.78 L516.09,636.14 L516.25,634.50 L516.40,632.86 L516.56,631.21 L516.72,629.57 L516.87,627.92 L517.03,626.27 L517.19,624.62 L517.34,622.97 L517.50,621.33 L517.66,619.67 L517.82,618.02 L517.97,616.37 L518.13,614.72 L518.29,613.07 L518.44,611.41 L518.60,609.76 L518.76,608.11 L518.91,606.45 L519.07,604.80 L519.23,603.14 L519.38,601.49 L519.54,599.84 L519.70,598.18 L519.85,596.53 L520.01,594.87 L520.17,593.22 L520.32,591.57 L520.48,589.92 L520.63,588.26 L520.79,586.61 L520.94,584.96 L521.10,583.31 L521.25,581.66 L521.40,580.01 L521.56,578.37 L521.71,576.72 L521.86,575.07 L522.02,573.43 L522.17,571.78 L522.32,570.14 L522.47,568.50 L522.62,566.86 L522.78,565.22 L522.93,563.58 L523.08,561.94 L523.23,560.30 L523.38,558.66 L523.54,557.02 L523.69,555.39 L523.84,553.75 L523.99,552.11 L524.14,550.48 L524.30,548.85 L524.45,547.21 L524.60,545.58 L524.75,543.95 L524.91,542.32 L525.06,540.69 L525.21,539.06 L525.37,537.43 L525.52,535.80 L525.68,534.17 L525.83,532.54 L525.99,530.92 L526.14,529.29 L526.30,527.66 L526.46,526.04 L526.61,524.41 L526.77,522.79 L526.93,521.16 L527.09,519.54 L527.25,517.92 L527.41,516.30 L527.57,514.67 L527.73,513.05 L527.89,511.43 L528.06,509.81 L528.22,508.19 L528.39,506.57 L528.55,504.95 L528.72,503.33 L528.89,501.71 L529.05,500.09 L529.22,498.48 L529.39,496.86 L529.56,495.24 L529.73,493.63 L529.91,492.01 L530.08,490.39 L530.26,488.78 L530.43,487.16 L530.61,485.55 L530.79,483.93 L530.97,482.32 L531.15,480.70 L531.33,479.09 L531.51,477.47 L531.70,475.86 L531.88,474.25 L532.07,472.63 L532.26,471.02 L532.44,469.41 L532.64,467.79 L532.83,466.18 L533.02,464.57 L533.22,462.96 L533.41,461.34 L533.61,459.73 L533.81,458.12 L534.01,456.51 L534.21,454.90 L534.42,453.28 L534.62,451.67 L534.83,450.06 L535.04,448.45 L535.25,446.84 L535.46,445.23 L535.68,443.61 L535.89,442.00 L536.11,440.39 L536.33,438.78 L536.55,437.17 L536.77,435.56 L537.00,433.95 L537.23,432.34 L537.45,430.72 L537.69,429.11 L537.92,427.50 L538.15,425.89 L538.39,424.28 L538.63,422.66 L538.87,421.05 L539.11,419.44 L539.36,417.83 L539.60,416.22 L539.85,414.60 L540.11,412.99 L540.36,411.38 L540.62,409.76 L540.87,408.15 L541.13,406.54 L541.40,404.92 L541.66,403.31 L541.93,401.70 L542.20,400.08 L542.47,398.47 L542.75,396.85 L543.03,395.24 L543.31,393.62 L543.59,392.01 L543.87,390.39 L544.16,388.77 L544.45,387.16 L544.74,385.54 L545.04,383.92 L545.34,382.31 L545.64,380.69 L545.94,379.07 L546.25,377.45 L546.56,375.83 L546.87,374.21 L547.18,372.59 L547.50,370.97 L547.82,369.35 L548.14,367.73 L548.47,366.11 L548.80,364.49 L549.13,362.86 L549.46,361.24 L549.80,359.62 L550.14,357.99 L550.49,356.37 L550.83,354.74 L551.18,353.12 L551.54,351.49 L551.89,349.86 L552.25,348.24 L552.61,346.61 L552.98,344.98 L553.35,343.35 L553.72,341.72 L554.10,340.09 L554.48,338.46 L554.86,336.83 L555.25,335.20 L555.64,333.57 L556.03,331.93 L556.43,330.30 L556.83,328.67 L557.24,327.04 L557.65,325.42 L558.07,323.79 L558.49,322.16 L558.92,320.54 L559.36,318.92 L559.80,317.30 L560.24,315.68 L560.70,314.07 L561.16,312.46 L561.63,310.86 L562.10,309.25 L562.58,307.65 L563.07,306.06 L563.57,304.47 L564.07,302.88 L564.59,301.30 L565.11,299.72 L565.64,298.15 L566.18,296.59 L566.73,295.03 L567.29,293.48 L567.86,291.93 L568.44,290.39 L569.03,288.86 L569.63,287.33 L570.23,285.81 L570.85,284.30 L571.49,282.79 L572.13,281.30 L572.78,279.81 L573.45,278.33 L574.12,276.86 L574.81,275.40 L575.51,273.95 L576.23,272.50 L576.95,271.07 L577.69,269.65 L578.45,268.24 L579.21,266.83 L579.99,265.44 L580.79,264.06 L581.60,262.69 L582.42,261.33 L583.25,259.99 L584.11,258.65 L584.97,257.33 L585.85,256.02 L586.75,254.72 L587.66,253.44 L588.59,252.17 L589.54,250.91 L590.50,249.67 L591.47,248.43 L592.47,247.22 L593.48,246.02 L594.51,244.83 L595.55,243.66 L596.62,242.50 L597.70,241.36 L598.80,240.23 L599.92,239.12 L601.05,238.03 L602.21,236.95 L603.38,235.89 L604.57,234.84 L605.78,233.81 L607.01,232.80 L608.25,231.80 L609.51,230.81 L610.79,229.85 L612.08,228.90 L613.39,227.96 L614.71,227.04 L616.05,226.13 L617.40,225.24 L618.76,224.37 L620.14,223.51 L621.54,222.66 L622.94,221.83 L624.36,221.01 L625.79,220.21 L627.23,219.42 L628.69,218.65 L630.16,217.89 L631.63,217.14 L633.12,216.41 L634.62,215.69 L636.12,214.99 L637.64,214.30 L639.16,213.62 L640.70,212.96 L642.24,212.31 L643.79,211.67 L645.35,211.04 L646.91,210.43 L648.48,209.83 L650.06,209.25 L651.64,208.67 L653.23,208.11 L654.83,207.56 L656.43,207.03 L658.03,206.50 L659.64,205.99 L661.25,205.49 L662.87,205.00 L664.49,204.53 L666.11,204.06 L667.74,203.61 L669.37,203.17 L670.99,202.74 L672.62,202.32 L674.26,201.91 L675.89,201.52 L677.52,201.13 L679.15,200.75 L680.78,200.39 L682.41,200.04 L684.04,199.69 L685.67,199.36 L687.30,199.04 L688.93,198.72 L690.55,198.42 L692.18,198.13 L693.80,197.85 L695.42,197.57 L697.04,197.31 L698.67,197.05 L700.29,196.81 L701.91,196.57 L703.53,196.35 L705.14,196.13 L706.76,195.92 L708.38,195.72 L710.00,195.52 L711.61,195.34 L713.23,195.16 L714.85,195.00 L716.46,194.84 L718.08,194.69 L719.69,194.54 L721.31,194.41 L722.92,194.28 L724.54,194.16 L726.15,194.04 L727.77,193.93 L729.38,193.83 L731.00,193.74 L732.61,193.65 L734.23,193.57 L735.84,193.50 L737.46,193.43 L739.07,193.37 L740.69,193.32 L742.31,193.27 L743.92,193.23 L745.54,193.19 L747.16,193.16 L748.78,193.13 L750.40,193.11 L752.01,193.10 L753.64,193.09 L755.26,193.08 L756.88,193.08 L758.50,193.09 L760.12,193.10 L761.75,193.11 L763.37,193.13 L765.00,193.15 L766.63,193.18 L768.25,193.21 L769.88,193.24 L771.51,193.28 L773.15,193.33 L774.78,193.37 L776.41,193.42 L778.05,193.47 L779.68,193.53 L781.32,193.59 L782.96,193.65 L784.60,193.71 L786.24,193.78 L787.89,193.85 L789.53,193.92 L791.18,194.00 L792.83,194.08 L794.48,194.16 L796.12,194.25 L797.77,194.35 L799.42,194.45 L801.07,194.55 L802.72,194.67 L804.36,194.79 L806.01,194.92 L807.66,195.06 L809.30,195.21 L810.95,195.36 L812.59,195.53 L814.23,195.71 L815.87,195.89 L817.50,196.09 L819.13,196.30 L820.77,196.52 L822.39,196.76 L824.02,197.01 L825.64,197.27 L827.26,197.55 L828.87,197.84 L830.48,198.15 L832.09,198.47 L833.69,198.81 L835.29,199.16 L836.88,199.53 L838.47,199.92 L840.06,200.33 L841.63,200.76 L843.21,201.20 L844.77,201.66 L846.33,202.15 L847.89,202.65 L849.44,203.18 L850.98,203.73 L852.51,204.30 L854.04,204.89 L855.56,205.50 L857.08,206.14 L858.58,206.80 L860.08,207.49 L861.57,208.20 L863.05,208.93 L864.53,209.69 L865.99,210.48 L867.45,211.30 L868.90,212.14 L870.34,213.01 L872.22,214.15" stroke="#00f808" stroke-width="9.6" stroke-dasharray="37.19 8.3 18.8 8.3" stroke-dashoffset="67.23"/>
<path d="M132.67,167.59 L132.97,167.60 L134.44,167.62 L135.91,167.65 L137.38,167.67 L138.85,167.69 L140.32,167.71 L141.79,167.73 L143.26,167.75 L144.73,167.77 L146.20,167.79 L147.67,167.81 L149.14,167.83 L150.61,167.85 L152.08,167.86 L153.55,167.88 L155.02,167.90 L156.49,167.91 L157.96,167.93 L159.43,167.94 L160.89,167.96 L162.36,167.97 L163.83,167.98 L165.30,168.00 L166.77,168.01 L168.23,168.02 L169.70,168.03 L171.17,168.05 L172.64,168.06 L174.10,168.07 L175.57,168.08 L177.04,168.09 L178.50,168.10 L179.97,168.11 L181.44,168.12 L182.90,168.13 L184.37,168.14 L185.83,168.15 L187.30,168.16 L188.77,168.17 L190.23,168.18 L191.70,168.19 L193.16,168.20 L194.63,168.21 L196.09,168.22 L197.56,168.22 L199.02,168.23 L200.49,168.24 L201.95,168.25 L203.42,168.26 L204.88,168.27 L206.35,168.28 L207.81,168.29 L209.28,168.30 L210.74,168.31 L212.20,168.32 L213.67,168.33 L215.13,168.34 L216.60,168.35 L218.06,168.36 L219.52,168.37 L220.99,168.39 L222.45,168.40 L223.91,168.41 L225.38,168.42 L226.84,168.43 L228.30,168.45 L229.77,168.46 L231.23,168.48 L232.69,168.49 L234.16,168.50 L235.62,168.52 L237.08,168.54 L238.54,168.55 L240.01,168.57 L241.47,168.59 L242.93,168.60 L244.40,168.62 L245.86,168.64 L247.32,168.66 L248.78,168.68 L250.24,168.70 L251.71,168.72 L253.17,168.74 L254.63,168.77 L256.09,168.79 L257.56,168.81 L259.02,168.84 L260.48,168.86 L261.94,168.89 L263.40,168.92 L264.87,168.95 L266.33,168.97 L267.79,169.00 L269.25,169.03 L270.71,169.06 L272.18,169.10 L273.64,169.13 L275.10,169.16 L276.56,169.20 L278.02,169.23 L279.49,169.27 L280.95,169.31 L282.41,169.35 L283.87,169.39 L285.33,169.43 L286.79,169.47 L288.26,169.51 L289.72,169.55 L291.18,169.60 L292.64,169.64 L294.10,169.69 L295.57,169.74 L297.03,169.79 L298.49,169.84 L299.95,169.89 L301.41,169.94 L302.87,170.00 L304.34,170.05 L305.80,170.11 L307.26,170.17 L308.72,170.23 L310.18,170.29 L311.65,170.35 L313.11,170.41 L314.57,170.48 L316.03,170.54 L317.50,170.61 L318.96,170.68 L320.42,170.75 L321.88,170.82 L323.34,170.90 L324.81,170.97 L326.27,171.05 L327.73,171.12 L329.19,171.20 L330.66,171.28 L332.12,171.37 L333.58,171.45 L335.04,171.54 L336.51,171.62 L337.97,171.71 L339.43,171.80 L340.90,171.90 L342.36,171.99 L343.82,172.08 L345.28,172.18 L346.75,172.28 L348.21,172.38 L349.67,172.48 L351.14,172.59 L352.60,172.69 L354.06,172.80 L355.53,172.91 L356.99,173.02 L358.46,173.14 L359.92,173.25 L361.38,173.37 L362.85,173.49 L364.31,173.61 L365.78,173.73 L367.24,173.86 L368.70,173.99 L370.17,174.12 L371.63,174.25 L373.10,174.38 L374.56,174.51 L376.03,174.65 L377.49,174.79 L378.96,174.93 L380.42,175.08 L381.89,175.22 L383.35,175.37 L384.82,175.52 L386.28,175.68 L387.75,175.83 L389.21,175.99 L390.68,176.15 L392.14,176.32 L393.61,176.49 L395.07,176.66 L396.53,176.83 L397.99,177.01 L399.46,177.20 L400.92,177.38 L402.38,177.58 L403.83,177.77 L405.29,177.97 L406.75,178.18 L408.21,178.39 L409.66,178.60 L411.11,178.82 L412.57,179.05 L414.02,179.28 L415.47,179.51 L416.91,179.75 L418.36,180.00 L419.81,180.25 L421.25,180.51 L422.69,180.78 L424.13,181.05 L425.57,181.33 L427.00,181.61 L428.44,181.90 L429.87,182.20 L431.30,182.51 L432.73,182.82 L434.15,183.14 L435.58,183.47 L437.00,183.80 L438.42,184.15 L439.83,184.50 L441.24,184.86 L442.66,185.22 L444.06,185.60 L445.47,185.98 L446.87,186.37 L448.27,186.77 L449.67,187.18 L451.06,187.60 L452.45,188.03 L453.84,188.47 L455.22,188.92 L456.60,189.37 L457.98,189.84 L459.36,190.31 L460.73,190.80 L462.09,191.30 L463.46,191.80 L464.82,192.32 L466.17,192.85 L467.53,193.39 L468.87,193.94 L470.22,194.50 L471.56,195.07 L472.90,195.65 L474.23,196.25 L475.56,196.85 L476.88,197.47 L478.20,198.10 L479.52,198.74 L480.83,199.40 L482.14,200.06 L483.44,200.74 L484.73,201.43 L486.03,202.14 L487.31,202.85 L488.59,203.58 L489.87,204.32 L491.14,205.07 L492.40,205.84 L493.65,206.62 L494.90,207.41 L496.14,208.21 L497.37,209.02 L498.59,209.85 L499.81,210.69 L501.02,211.54 L502.21,212.40 L503.40,213.27 L504.58,214.16 L505.75,215.06 L506.90,215.97 L508.05,216.89 L509.19,217.82 L510.31,218.77 L511.43,219.73 L512.53,220.70 L513.62,221.68 L514.70,222.67 L515.76,223.68 L516.81,224.70 L517.85,225.73 L518.88,226.77 L519.89,227.82 L520.89,228.88 L521.87,229.96 L522.84,231.05 L523.79,232.14 L524.73,233.25 L525.65,234.38 L526.56,235.51 L527.45,236.65 L528.32,237.81 L529.18,238.98 L530.02,240.16 L530.85,241.35 L531.66,242.55 L532.46,243.75 L533.24,244.97 L534.01,246.20 L534.76,247.44 L535.50,248.69 L536.23,249.94 L536.95,251.21 L537.65,252.48 L538.34,253.76 L539.02,255.05 L539.69,256.34 L540.34,257.65 L540.99,258.95 L541.62,260.27 L542.25,261.59 L542.86,262.92 L543.47,264.25 L544.07,265.59 L544.65,266.94 L545.23,268.29 L545.80,269.64 L546.36,271.00 L546.92,272.36 L547.47,273.73 L548.01,275.10 L548.54,276.47 L549.07,277.85 L549.59,279.23 L550.11,280.61 L550.62,282.00 L551.12,283.38 L551.62,284.77 L552.12,286.16 L552.61,287.55 L553.10,288.94 L553.58,290.34 L554.07,291.73 L554.54,293.12 L555.02,294.52 L555.49,295.91 L555.96,297.31 L556.42,298.71 L556.88,300.11 L557.34,301.51 L557.79,302.91 L558.24,304.31 L558.68,305.71 L559.13,307.11 L559.57,308.51 L560.00,309.92 L560.44,311.32 L560.87,312.73 L561.29,314.13 L561.71,315.54 L562.13,316.95 L562.55,318.36 L562.96,319.76 L563.37,321.17 L563.78,322.58 L564.18,324.00 L564.58,325.41 L564.98,326.82 L565.38,328.23 L565.77,329.65 L566.16,331.06 L566.54,332.48 L566.92,333.89 L567.30,335.31 L567.68,336.72 L568.05,338.14 L568.42,339.56 L568.79,340.98 L569.15,342.40 L569.52,343.82 L569.88,345.24 L570.23,346.66 L570.58,348.08 L570.94,349.51 L571.28,350.93 L571.63,352.35 L571.97,353.78 L572.31,355.20 L572.65,356.63 L572.98,358.05 L573.31,359.48 L573.64,360.90 L573.97,362.33 L574.29,363.76 L574.61,365.19 L574.93,366.62 L575.25,368.05 L575.56,369.48 L575.87,370.91 L576.18,372.34 L576.49,373.77 L576.79,375.20 L577.09,376.63 L577.39,378.07 L577.69,379.50 L577.98,380.93 L578.27,382.37 L578.56,383.80 L578.85,385.23 L579.14,386.67 L579.42,388.11 L579.70,389.54 L579.98,390.98 L580.26,392.41 L580.53,393.85 L580.80,395.29 L581.07,396.73 L581.34,398.17 L581.61,399.60 L581.87,401.04 L582.13,402.48 L582.39,403.92 L582.65,405.36 L582.91,406.80 L583.16,408.24 L583.41,409.68 L583.66,411.13 L583.91,412.57 L584.16,414.01 L584.40,415.45 L584.64,416.89 L584.88,418.34 L585.12,419.78 L585.36,421.22 L585.60,422.67 L585.83,424.11 L586.06,425.55 L586.29,427.00 L586.52,428.44 L586.75,429.89 L586.97,431.33 L587.20,432.78 L587.42,434.22 L587.64,435.67 L587.86,437.11 L588.08,438.56 L588.29,440.01 L588.51,441.45 L588.72,442.90 L588.93,444.34 L589.14,445.79 L589.35,447.24 L589.56,448.68 L589.77,450.13 L589.97,451.58 L590.18,453.03 L590.38,454.47 L590.58,455.92 L590.78,457.37 L590.98,458.82 L591.18,460.26 L591.37,461.71 L591.57,463.16 L591.76,464.61 L591.95,466.06 L592.15,467.50 L592.34,468.95 L592.53,470.40 L592.71,471.85 L592.90,473.30 L593.09,474.75 L593.27,476.20 L593.46,477.65 L593.64,479.10 L593.83,480.54 L594.01,481.99 L594.19,483.44 L594.37,484.89 L594.55,486.34 L594.74,487.79 L594.91,489.25 L595.09,490.70 L595.27,492.15 L595.45,493.60 L595.63,495.05 L595.80,496.50 L595.98,497.95 L596.16,499.41 L596.33,500.86 L596.51,502.31 L596.68,503.76 L596.86,505.22 L597.03,506.67 L597.21,508.12 L597.38,509.58 L597.56,511.03 L597.73,512.49 L597.90,513.94 L598.08,515.40 L598.25,516.85 L598.43,518.31 L598.60,519.77 L598.77,521.22 L598.95,522.68 L599.12,524.14 L599.30,525.59 L599.47,527.05 L599.65,528.51 L599.82,529.97 L600.00,531.43 L600.17,532.89 L600.35,534.35 L600.53,535.81 L600.70,537.27 L600.88,538.73 L601.06,540.19 L601.24,541.65 L601.42,543.12 L601.60,544.58 L601.78,546.04 L601.96,547.51 L602.14,548.97 L602.32,550.44 L602.51,551.90 L602.69,553.37 L602.87,554.83 L603.06,556.30 L603.25,557.77 L603.43,559.23 L603.62,560.70 L603.81,562.17 L604.00,563.64 L604.19,565.11 L604.38,566.58 L604.58,568.05 L604.77,569.52 L604.97,570.99 L605.16,572.46 L605.36,573.94 L605.56,575.41 L605.76,576.88 L605.96,578.35 L606.17,579.82 L606.37,581.30 L606.57,582.76 L606.78,584.23 L606.99,585.70 L607.20,587.17 L607.41,588.63 L607.62,590.09 L607.83,591.55 L608.04,593.01 L608.26,594.46 L608.48,595.91 L608.69,597.36 L608.91,598.80 L609.13,600.25 L609.35,601.68 L609.58,603.12 L609.80,604.55 L610.03,605.97 L610.25,607.39 L610.48,608.81 L610.71,610.22 L610.94,611.63 L611.18,613.03 L611.41,614.42 L611.65,615.81 L611.88,617.20 L612.12,618.57 L612.36,619.95 L612.60,621.32 L612.85,622.69 L613.09,624.06 L613.34,625.42 L613.59,626.79 L613.84,628.16 L614.09,629.53 L614.35,630.90 L614.60,632.28 L614.86,633.66 L615.12,635.05 L615.38,636.44 L615.65,637.84 L615.92,639.25 L616.19,640.66 L616.46,642.09 L616.73,643.53 L617.01,644.97 L617.29,646.43 L617.57,647.90 L617.86,649.39 L618.15,650.89 L618.44,652.41 L618.73,653.94 L619.03,655.49 L619.33,657.05 L619.63,658.64 L619.94,660.25 L620.25,661.87 L620.56,663.52 L620.87,665.19 L621.19,666.88 L621.52,668.60 L621.85,670.33 L622.19,672.05 L622.55,673.76 L622.93,675.43 L623.34,677.07 L623.79,678.64 L624.27,680.14 L624.79,681.55 L625.36,682.86 L625.98,684.05 L626.66,685.11 L627.39,686.00 L628.16,686.68 L628.97,687.12 L629.81,687.27 L630.67,687.12 L631.53,686.70 L632.38,686.04 L633.20,685.16 L633.99,684.10 L634.71,682.88 L635.39,681.53 L636.02,680.06 L636.61,678.49 L637.16,676.84 L637.67,675.13 L638.15,673.37 L638.60,671.59 L639.02,669.79 L639.42,668.01 L639.81,666.26 L640.17,664.55 L640.53,662.88 L640.87,661.25 L641.19,659.65 L641.51,658.09 L641.81,656.56 L642.11,655.06 L642.39,653.58 L642.67,652.13 L642.94,650.69 L643.20,649.28 L643.46,647.88 L643.71,646.48 L643.96,645.10 L644.20,643.73 L644.45,642.36 L644.69,640.99 L644.93,639.62 L645.17,638.24 L645.40,636.86 L645.64,635.48 L645.88,634.10 L646.12,632.71 L646.36,631.32 L646.59,629.93 L646.83,628.53 L647.07,627.14 L647.31,625.74 L647.54,624.33 L647.78,622.93 L648.01,621.52 L648.25,620.11 L648.48,618.70 L648.72,617.28 L648.95,615.86 L649.19,614.44 L649.42,613.02 L649.66,611.60 L649.89,610.17 L650.12,608.74 L650.36,607.31 L650.59,605.88 L650.82,604.45 L651.05,603.01 L651.28,601.57 L651.52,600.13 L651.75,598.69 L651.98,597.25 L652.21,595.81 L652.44,594.36 L652.67,592.91 L652.90,591.46 L653.13,590.01 L653.36,588.56 L653.59,587.11 L653.82,585.66 L654.04,584.20 L654.27,582.75 L654.50,581.29 L654.73,579.83 L654.95,578.38 L655.18,576.92 L655.41,575.46 L655.64,574.00 L655.86,572.53 L656.09,571.07 L656.31,569.61 L656.54,568.15 L656.76,566.68 L656.99,565.22 L657.21,563.76 L657.44,562.29 L657.66,560.83 L657.89,559.36 L658.11,557.90 L658.33,556.43 L658.56,554.96 L658.78,553.50 L659.00,552.03 L659.22,550.57 L659.45,549.10 L659.67,547.64 L659.89,546.17 L660.11,544.71 L660.33,543.25 L660.55,541.78 L660.77,540.32 L660.99,538.86 L661.21,537.40 L661.43,535.93 L661.65,534.47 L661.87,533.01 L662.09,531.55 L662.31,530.10 L662.53,528.64 L662.75,527.18 L662.96,525.73 L663.18,524.27 L663.40,522.81 L663.62,521.36 L663.84,519.91 L664.06,518.45 L664.28,517.00 L664.50,515.55 L664.72,514.10 L664.94,512.65 L665.16,511.20 L665.38,509.75 L665.60,508.30 L665.82,506.85 L666.04,505.40 L666.26,503.95 L666.48,502.51 L666.70,501.06 L666.93,499.62 L667.15,498.17 L667.38,496.73 L667.60,495.28 L667.83,493.84 L668.05,492.40 L668.28,490.95 L668.51,489.51 L668.74,488.07 L668.97,486.63 L669.20,485.19 L669.43,483.75 L669.66,482.31 L669.89,480.87 L670.13,479.44 L670.36,478.00 L670.60,476.56 L670.83,475.12 L671.07,473.69 L671.31,472.25 L671.55,470.82 L671.80,469.38 L672.04,467.95 L672.28,466.51 L672.53,465.08 L672.78,463.65 L673.02,462.21 L673.27,460.78 L673.52,459.35 L673.78,457.92 L674.03,456.49 L674.29,455.06 L674.55,453.63 L674.80,452.20 L675.06,450.77 L675.33,449.34 L675.59,447.91 L675.86,446.48 L676.12,445.05 L676.39,443.63 L676.66,442.20 L676.94,440.77 L677.21,439.34 L677.49,437.92 L677.77,436.49 L678.05,435.07 L678.33,433.64 L678.62,432.22 L678.90,430.79 L679.19,429.37 L679.48,427.94 L679.78,426.52 L680.07,425.10 L680.37,423.67 L680.67,422.25 L680.97,420.83 L681.28,419.40 L681.59,417.98 L681.90,416.56 L682.21,415.14 L682.52,413.72 L682.84,412.30 L683.16,410.88 L683.48,409.45 L683.81,408.03 L684.13,406.61 L684.46,405.19 L684.80,403.77 L685.13,402.35 L685.47,400.93 L685.81,399.52 L686.16,398.10 L686.50,396.68 L686.85,395.26 L687.21,393.84 L687.56,392.42 L687.92,391.00 L688.28,389.59 L688.65,388.17 L689.02,386.75 L689.39,385.33 L689.76,383.92 L690.14,382.50 L690.52,381.08 L690.91,379.66 L691.29,378.25 L691.68,376.83 L692.08,375.41 L692.47,374.00 L692.88,372.58 L693.28,371.16 L693.69,369.75 L694.10,368.33 L694.51,366.91 L694.93,365.50 L695.35,364.08 L695.78,362.66 L696.21,361.25 L696.64,359.83 L697.08,358.42 L697.52,357.00 L697.97,355.59 L698.41,354.17 L698.87,352.75 L699.32,351.34 L699.79,349.93 L700.25,348.51 L700.72,347.10 L701.20,345.69 L701.67,344.28 L702.16,342.87 L702.65,341.47 L703.14,340.06 L703.64,338.66 L704.14,337.26 L704.65,335.86 L705.16,334.46 L705.68,333.07 L706.21,331.67 L706.74,330.28 L707.27,328.89 L707.81,327.51 L708.36,326.13 L708.91,324.75 L709.47,323.37 L710.03,322.00 L710.60,320.63 L711.18,319.26 L711.76,317.90 L712.35,316.54 L712.95,315.18 L713.55,313.83 L714.16,312.48 L714.77,311.14 L715.40,309.80 L716.02,308.47 L716.66,307.14 L717.30,305.81 L717.95,304.49 L718.61,303.18 L719.27,301.87 L719.94,300.56 L720.62,299.26 L721.31,297.97 L722.00,296.68 L722.71,295.40 L723.42,294.12 L724.13,292.85 L724.86,291.58 L725.59,290.32 L726.33,289.07 L727.08,287.82 L727.84,286.58 L728.61,285.35 L729.38,284.12 L730.17,282.90 L730.96,281.69 L731.76,280.49 L732.57,279.29 L733.39,278.10 L734.22,276.91 L735.05,275.74 L735.90,274.57 L736.75,273.41 L737.62,272.26 L738.49,271.12 L739.38,269.98 L740.27,268.85 L741.17,267.73 L742.08,266.63 L743.01,265.52 L743.94,264.43 L744.88,263.35 L745.83,262.28 L746.80,261.21 L747.77,260.16 L748.75,259.11 L749.75,258.07 L750.75,257.05 L751.77,256.03 L752.79,255.02 L753.83,254.03 L754.88,253.04 L755.93,252.07 L757.00,251.10 L758.08,250.15 L759.18,249.20 L760.28,248.27 L761.39,247.35 L762.52,246.44 L763.65,245.54 L764.80,244.64 L765.95,243.76 L767.12,242.89 L768.29,242.04 L769.47,241.19 L770.67,240.35 L771.87,239.52 L773.08,238.70 L774.30,237.89 L775.53,237.09 L776.77,236.31 L778.01,235.53 L779.27,234.76 L780.53,234.00 L781.79,233.25 L783.07,232.51 L784.35,231.79 L785.64,231.07 L786.94,230.36 L788.25,229.66 L789.56,228.97 L790.87,228.29 L792.20,227.62 L793.53,226.95 L794.86,226.30 L796.20,225.66 L797.55,225.03 L798.90,224.40 L800.25,223.79 L801.61,223.18 L802.98,222.58 L804.35,222.00 L805.72,221.42 L807.10,220.85 L808.48,220.29 L809.87,219.74 L811.26,219.19 L812.65,218.66 L814.04,218.13 L815.44,217.62 L816.84,217.11 L818.25,216.61 L819.65,216.12 L821.06,215.64 L822.47,215.17 L823.89,214.70 L825.30,214.25 L826.71,213.80 L828.13,213.36 L829.55,212.93 L830.97,212.50 L832.39,212.09 L833.81,211.68 L835.23,211.28 L836.65,210.89 L838.07,210.51 L839.49,210.14 L840.91,209.77 L842.33,209.41 L843.74,209.06 L845.16,208.72 L846.58,208.38 L847.99,208.05 L849.40,207.73 L850.82,207.42 L852.22,207.12 L853.63,206.82 L855.04,206.53 L856.44,206.25 L857.84,205.97 L859.24,205.70 L860.63,205.44 L862.02,205.19 L863.41,204.94 L864.79,204.70 L866.17,204.47 L867.55,204.25 L868.92,204.03 L870.29,203.82 L872.46,203.48" stroke="#ff00ff" stroke-width="6.6"/>
</g>
<line x1="870.5" y1="164.2" x2="870.5" y2="748.2" stroke="#404040" stroke-width="1.8"/>
<!-- tick labels -->
<g class="tk" text-anchor="end">
<text transform="translate(119.0,182.0) scale(1,1.065)">1</text>
<text transform="translate(119.0,298.7) scale(1,1.065)">0.8</text>
<text transform="translate(119.0,415.3) scale(1,1.065)">0.6</text>
<text transform="translate(119.0,531.8) scale(1,1.065)">0.4</text>
<text transform="translate(119.0,648.3) scale(1,1.065)">0.2</text>
<text transform="translate(119.0,764.8) scale(1,1.065)">0</text>
</g>
<g class="tk" text-anchor="middle">
<text transform="translate(133.1,803.3) scale(1,1.065)">1</text>
<text transform="translate(363.6,803.3) scale(1,1.065)">1.5</text>
<text transform="translate(593.8,803.3) scale(1,1.065)">2</text>
<text transform="translate(825.0,803.3) scale(1,1.065)">2.5</text>
</g>
<text class="tk" text-anchor="middle" transform="translate(454.0,844.0) scale(1,1.085)">Frequency (THz)</text>
<text class="tk" transform="translate(38.8,479) rotate(-90)" text-anchor="middle">Reflection</text>
<!-- legend -->
<rect x="137.4" y="7.5" width="800.5" height="140.5" fill="#fff" stroke="none"/>
<line x1="137.4" y1="6.5" x2="137.4" y2="148.5" stroke="#808080" stroke-width="2"/>
<line x1="136.4" y1="7.5" x2="938.5" y2="7.5" stroke="#808080" stroke-width="2.2"/>
<line x1="937.9" y1="6.5" x2="937.9" y2="148.8" stroke="#1a1a1a" stroke-width="1.9"/>
<line x1="136.4" y1="148" x2="938.8" y2="148" stroke="#333" stroke-width="1.7"/>
<line x1="150" y1="27.8" x2="217.5" y2="27.8" stroke="#0000e6" stroke-width="6.8"/>
<line x1="150" y1="62.1" x2="217.5" y2="62.1" stroke="#ff0000" stroke-width="8" stroke-dasharray="31.3 30.6"/>
<line x1="150" y1="96.3" x2="217.5" y2="96.3" stroke="#00f808" stroke-width="9.6" stroke-dasharray="36 9 18.2 9"/>
<line x1="150" y1="128.4" x2="217.5" y2="128.4" stroke="#ff00ff" stroke-width="6.6"/>
<g class="lg">
<text transform="translate(222.5,37.6) scale(1,1.03)">00:Input 1 = 0 (E<tspan font-size="21.5" dy="0.4">f1</tspan><tspan dy="-0.4"> = 0.6 eV); Input 2 = 0 (E</tspan><tspan font-size="21.5" dy="0.4">f2</tspan><tspan dy="-0.4"> = 0.6 eV)</tspan></text>
<text transform="translate(222.5,68.3) scale(1,1.03)">01:Input 1 = 0 (E<tspan font-size="21.5" dy="0.4">f1</tspan><tspan dy="-0.4"> = 0.6 eV); Input 2 = 1 (E</tspan><tspan font-size="21.5" dy="0.4">f2</tspan><tspan dy="-0.4"> = 1 eV)</tspan></text>
<text transform="translate(222.5,103.9) scale(1,1.03)">10:Input 1 = 1 (E<tspan font-size="21.5" dy="0.4">f1</tspan><tspan dy="-0.4"> = 1 eV); Input 2 = 0 (E</tspan><tspan font-size="21.5" dy="0.4">f2</tspan><tspan dy="-0.4"> = 0.6 eV)</tspan></text>
<text transform="translate(222.5,136.3) scale(1,1.03)">11:Input 1 = 1 (E<tspan font-size="21.5" dy="0.4">f1</tspan><tspan dy="-0.4"> = 1 eV); Input 2 = 1 (E</tspan><tspan font-size="21.5" dy="0.4">f2</tspan><tspan dy="-0.4"> = 1 eV)</tspan></text>
</g>
</svg>
</body></html>
